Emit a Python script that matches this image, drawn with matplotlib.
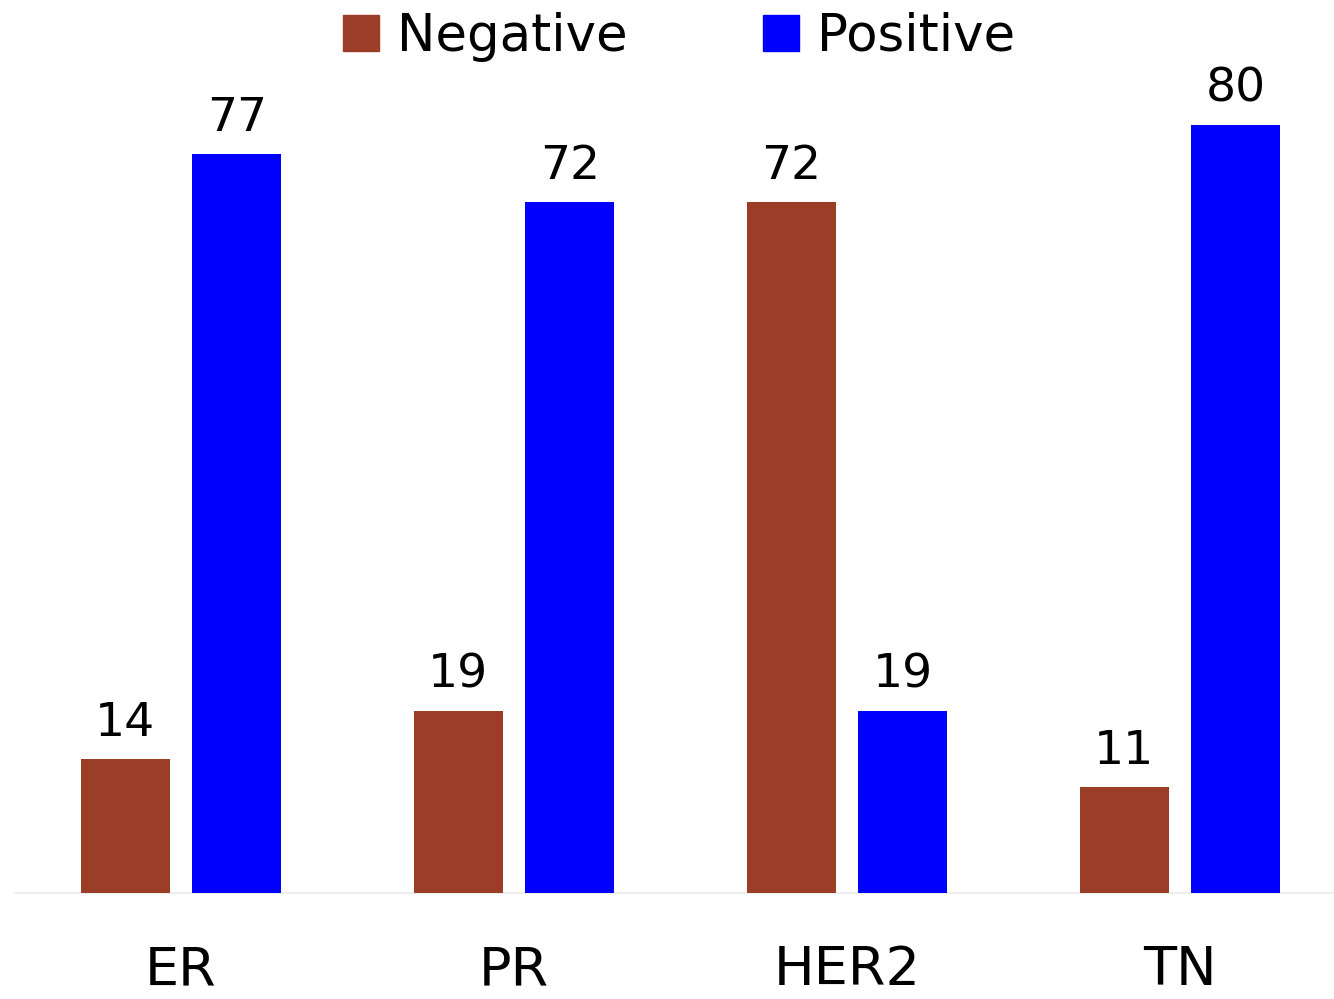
import matplotlib
matplotlib.use("Agg")
import matplotlib.pyplot as plt
from matplotlib.patches import Patch
import numpy as np

categories = ["ER", "PR", "HER2", "TN"]
negative = [14, 19, 72, 11]
positive = [77, 72, 19, 80]

NEG_COLOR = "#9C3D28"
POS_COLOR = "#0000FF"

W, H, DPI = 1334, 999, 100
fig = plt.figure(figsize=(W / DPI, H / DPI), dpi=DPI)
plt.rcParams["font.family"] = ["DejaVu Sans"]

# axes placed in pixel terms: baseline at y=893 from top, groups spaced 333 px
left_px, right_px = 14.5, 1334
bottom_px = H - 893
top_px = H - 29
ax = fig.add_axes([left_px / W, bottom_px / H, (right_px - left_px) / W, (top_px - bottom_px) / H])

x = np.arange(len(categories))
bw = 0.267
off = 0.1674
bn = ax.bar(x - off, negative, bw, color=NEG_COLOR, zorder=3)
bp = ax.bar(x + off, positive, bw, color=POS_COLOR, zorder=3)

for bars, vals in ((bn, negative), (bp, positive)):
    for b, v in zip(bars, vals):
        ax.annotate(str(v), (b.get_x() + b.get_width() / 2, v),
                    xytext=(0, 13), textcoords="offset pixels",
                    ha="center", va="bottom", fontsize=34, color="black")

ax.set_xlim(-0.5, -0.5 + (right_px - left_px) / 333)
ax.set_ylim(0, 90)
ax.set_yticks([])
ax.set_xticks(x)
ax.set_xticklabels(categories, fontsize=39)
ax.tick_params(axis="x", length=0, pad=37)
for s in ("top", "right", "left"):
    ax.spines[s].set_visible(False)
ax.spines["bottom"].set_color("#eeeeee")
ax.spines["bottom"].set_linewidth(1.5)

handles = [Patch(color=NEG_COLOR), Patch(color=POS_COLOR)]
fig.legend(handles, ["Negative", "Positive"], loc="center",
           bbox_to_anchor=(679 / W, 1 - 37 / H), ncol=2, frameon=False,
           fontsize=37, handlelength=0.7, handleheight=0.7,
           handletextpad=0.35, columnspacing=2.65)

fig.savefig("out.png", dpi=DPI)
